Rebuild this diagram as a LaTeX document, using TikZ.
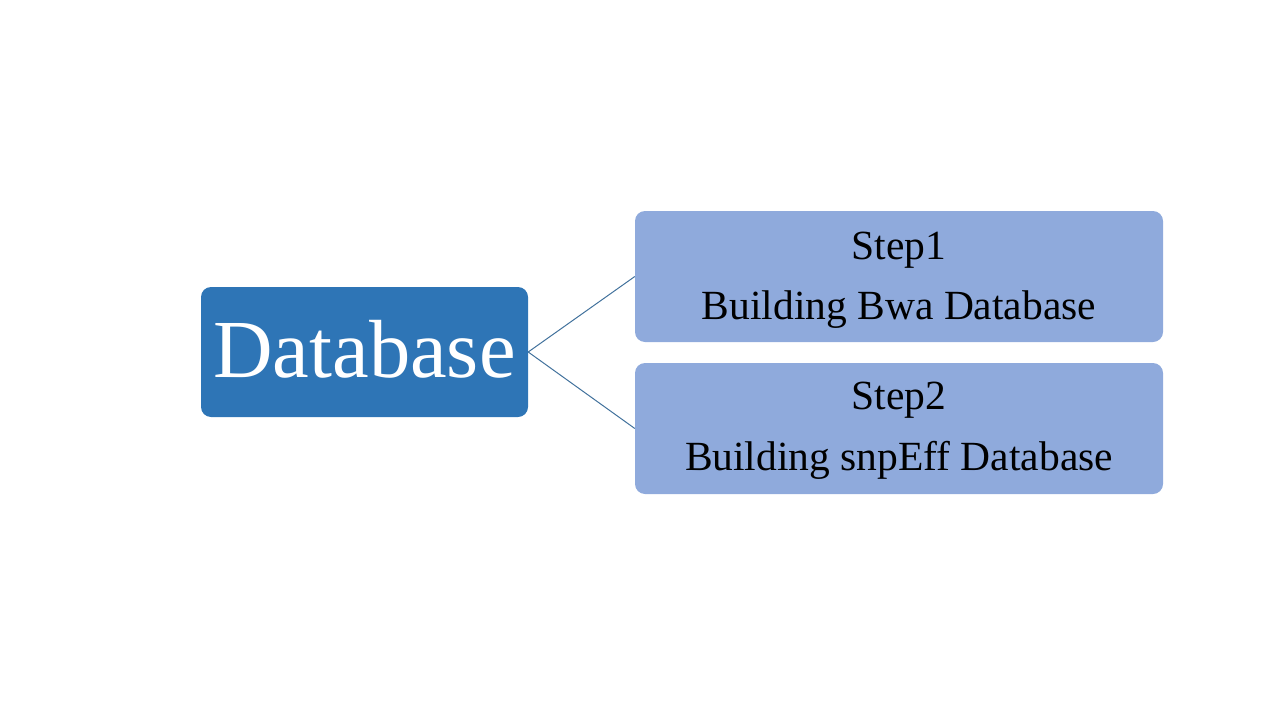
\documentclass[tikz,border=0pt]{standalone}
\usepackage{fontspec}
\setmainfont{Liberation Serif}
\definecolor{darkblue}{HTML}{2E75B6}
\definecolor{lightblue}{HTML}{8FAADC}
\definecolor{linkblue}{HTML}{41719C}
\begin{document}
\begin{tikzpicture}[x=1pt,y=-1pt,
  rootbox/.style={fill=darkblue, rounded corners=10pt, minimum width=327pt, minimum height=130pt, inner sep=0pt},
  roottext/.style={anchor=base, inner sep=0pt, text=white, font=\fontsize{82.5}{90}\selectfont},
  stepbox/.style={fill=lightblue, rounded corners=10pt, minimum width=528pt, minimum height=131pt, inner sep=0pt},
  steptext/.style={anchor=base, inner sep=0pt, text=black, font=\fontsize{41.5}{50}\selectfont},
  link/.style={draw=linkblue, line width=1pt}]
\useasboundingbox (0,0) rectangle (1280,720);
\node[rootbox] (db) at (364.5,352) {};
\node[roottext] (dbt) at (364.5,377) {Database};
\node[stepbox] (s1) at (899,276.5) {};
\node[steptext] (s1a) at (899,259) {Step1};
\node[steptext] (s1b) at (899,319) {Building Bwa Database};
\node[stepbox] (s2) at (899,428.5) {};
\node[steptext] (s2a) at (899,409) {Step2};
\node[steptext] (s2b) at (899,470) {Building snpEff Database};
\draw[link] (db.east) -- (s1.west);
\draw[link] (db.east) -- (s2.west);
\end{tikzpicture}
\end{document}
